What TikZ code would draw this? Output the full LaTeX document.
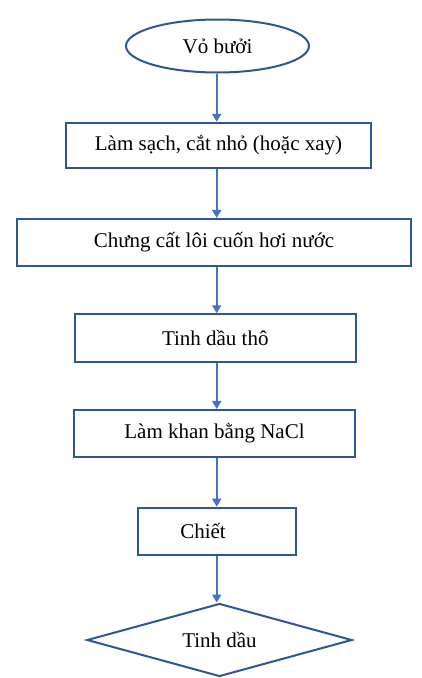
\documentclass[tikz,border=0pt]{standalone}
\usepackage{fontspec}
\setmainfont{Liberation Serif}
\usetikzlibrary{shapes.geometric,arrows.meta}
\definecolor{outl}{HTML}{2F5597}
\definecolor{arrc}{HTML}{4472C4}
\tikzset{
  stepbox/.style={draw=outl,line width=2pt,rectangle,inner sep=0pt,font=\fontsize{21}{24}\selectfont},
  startell/.style={draw=outl,line width=2pt,ellipse,inner sep=0pt,minimum width=183pt,minimum height=53pt,font=\fontsize{21}{24}\selectfont},
  endshape/.style={draw=outl,line width=2pt,diamond,shape aspect=3.6,inner sep=0pt,minimum width=265pt,minimum height=73pt,font=\fontsize{21}{24}\selectfont},
  arr/.style={draw=arrc,line width=2pt,-{Triangle[length=8pt,width=9pt]}}
}
\begin{document}
\begin{tikzpicture}[x=1pt,y=-1pt]
\useasboundingbox (0,0) rectangle (422,678);
\node[startell] (e) at (217.5,46) {Vỏ bưởi};
\node[stepbox,minimum width=305pt,minimum height=45.5pt] (b1) at (218.5,145.5) {Làm sạch, cắt nhỏ (hoặc xay)};
\node[stepbox,minimum width=394pt,minimum height=46.7pt] (b2) at (214,242.3) {Chưng cất lôi cuốn hơi nước};
\node[stepbox,minimum width=281.3pt,minimum height=47.5pt] (b3) at (215.3,338) {Tinh dầu thô};
\node[stepbox,minimum width=281pt,minimum height=46.7pt] (b4) at (214.5,433.3) {Làm khan bằng NaCl};
\node[stepbox,minimum width=158pt,minimum height=47.3pt] (b5) at (217,531.3) {Chiết\hspace*{28pt}};
\node[endshape] (d) at (219.5,640) {Tinh dầu};
\coordinate (ax) at (216.7,0);
\draw[arr] (ax |- e.south) -- (ax |- b1.north);
\draw[arr] (ax |- b1.south) -- (ax |- b2.north);
\draw[arr] (ax |- b2.south) -- (ax |- b3.north);
\draw[arr] (ax |- b3.south) -- (ax |- b4.north);
\draw[arr] (ax |- b4.south) -- (ax |- b5.north);
\draw[arr] (ax |- b5.south) -- (ax |- d.north);
\end{tikzpicture}
\end{document}
